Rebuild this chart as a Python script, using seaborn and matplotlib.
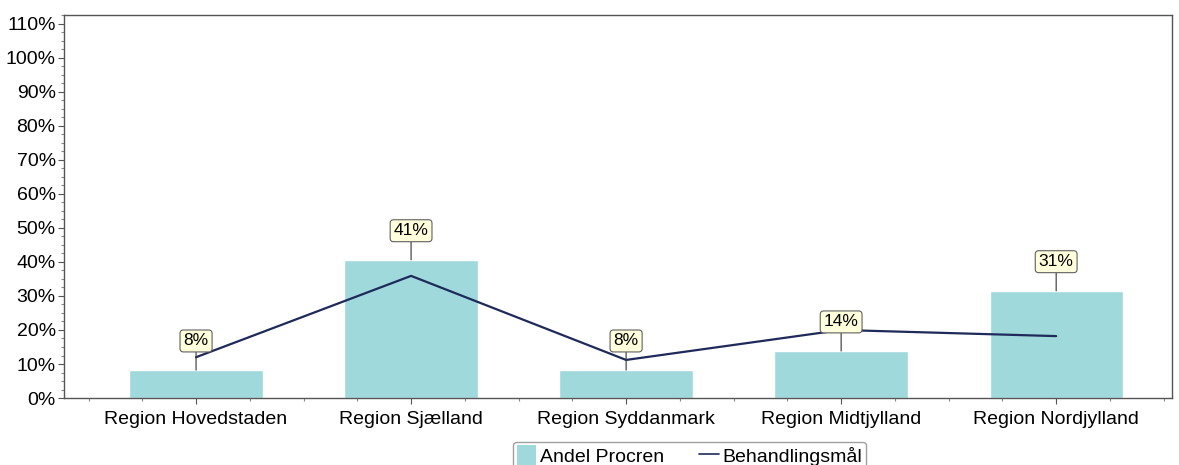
import pandas as pd
import seaborn as sns
import matplotlib.pyplot as plt
from matplotlib.ticker import MultipleLocator, PercentFormatter, FixedLocator
from matplotlib.patches import Patch
from matplotlib.lines import Line2D

regions = ["Region Hovedstaden", "Region Sjælland", "Region Syddanmark",
           "Region Midtjylland", "Region Nordjylland"]
andel_procren = [0.082, 0.406, 0.082, 0.138, 0.315]
behandlingsmaal = [0.12, 0.359, 0.112, 0.20, 0.182]
bar_labels = ["8%", "41%", "8%", "14%", "31%"]

BAR_COLOR = "#a0d9dc"
LINE_COLOR = "#1e2a5a"

df = pd.DataFrame({"region": regions, "andel": andel_procren, "maal": behandlingsmaal})
df["pos"] = range(len(df))

sns.set_style("ticks")
plt.rcParams["font.family"] = ["Liberation Sans", "DejaVu Sans"]
plt.rcParams["text.color"] = "black"
plt.rcParams["xtick.color"] = "#555555"
plt.rcParams["ytick.color"] = "#555555"
plt.rcParams["xtick.labelcolor"] = "black"
plt.rcParams["ytick.labelcolor"] = "black"

fig = plt.figure(figsize=(11.79, 4.65), dpi=100)
ax = fig.add_axes([0.0543, 0.144, 0.94, 0.824])

sns.barplot(data=df, x="region", y="andel", color=BAR_COLOR, saturation=1,
            width=0.62, ax=ax)
sns.lineplot(data=df, x="pos", y="maal", color=LINE_COLOR, lw=1.6, ax=ax)

# labels over bars
for i, (v, lab) in enumerate(zip(andel_procren, bar_labels)):
    ax.annotate(lab, xy=(i, v), xytext=(0, 21), textcoords="offset points",
                ha="center", va="center", fontsize=12.5,
                bbox=dict(boxstyle="round,pad=0.2", fc="#ffffdc", ec="#606060", lw=0.8),
                arrowprops=dict(arrowstyle="-", color="#333333", lw=0.8,
                                shrinkA=0, shrinkB=0))

ax.set_xlim(-0.614, 4.54)
ax.set_ylim(0, 1.126)
ax.yaxis.set_major_locator(MultipleLocator(0.1))
ax.yaxis.set_minor_locator(MultipleLocator(0.025))
ax.yaxis.set_major_formatter(PercentFormatter(1.0, decimals=0))
ax.xaxis.set_minor_locator(FixedLocator([i * 0.25 - 0.5 for i in range(21)]))
ax.set_xlabel("")
ax.set_ylabel("")
ax.tick_params(axis="both", which="major", labelsize=14, length=4, width=0.8,
               direction="out")
ax.tick_params(axis="both", which="minor", length=2.5, width=0.8, color="#888888")
ax.tick_params(axis="x", which="major", length=4, pad=5)
ax.tick_params(axis="y", which="major", pad=2)
for s in ax.spines.values():
    s.set_visible(True)
    s.set_color("#555555")
    s.set_linewidth(1.0)

handles = [Patch(facecolor=BAR_COLOR, edgecolor="none"),
           Line2D([0], [0], color=LINE_COLOR, lw=1.2)]
fig.legend(handles, ["Andel Procren", "Behandlingsmål"], ncol=2,
           loc="center", bbox_to_anchor=(0.585, 0.02), fontsize=14,
           frameon=True, edgecolor="#888888", fancybox=True,
           handlelength=1.0, handleheight=1.2, handletextpad=0.2,
           columnspacing=1.8, borderpad=0.2, borderaxespad=0)

fig.savefig("out.png", dpi=100)
